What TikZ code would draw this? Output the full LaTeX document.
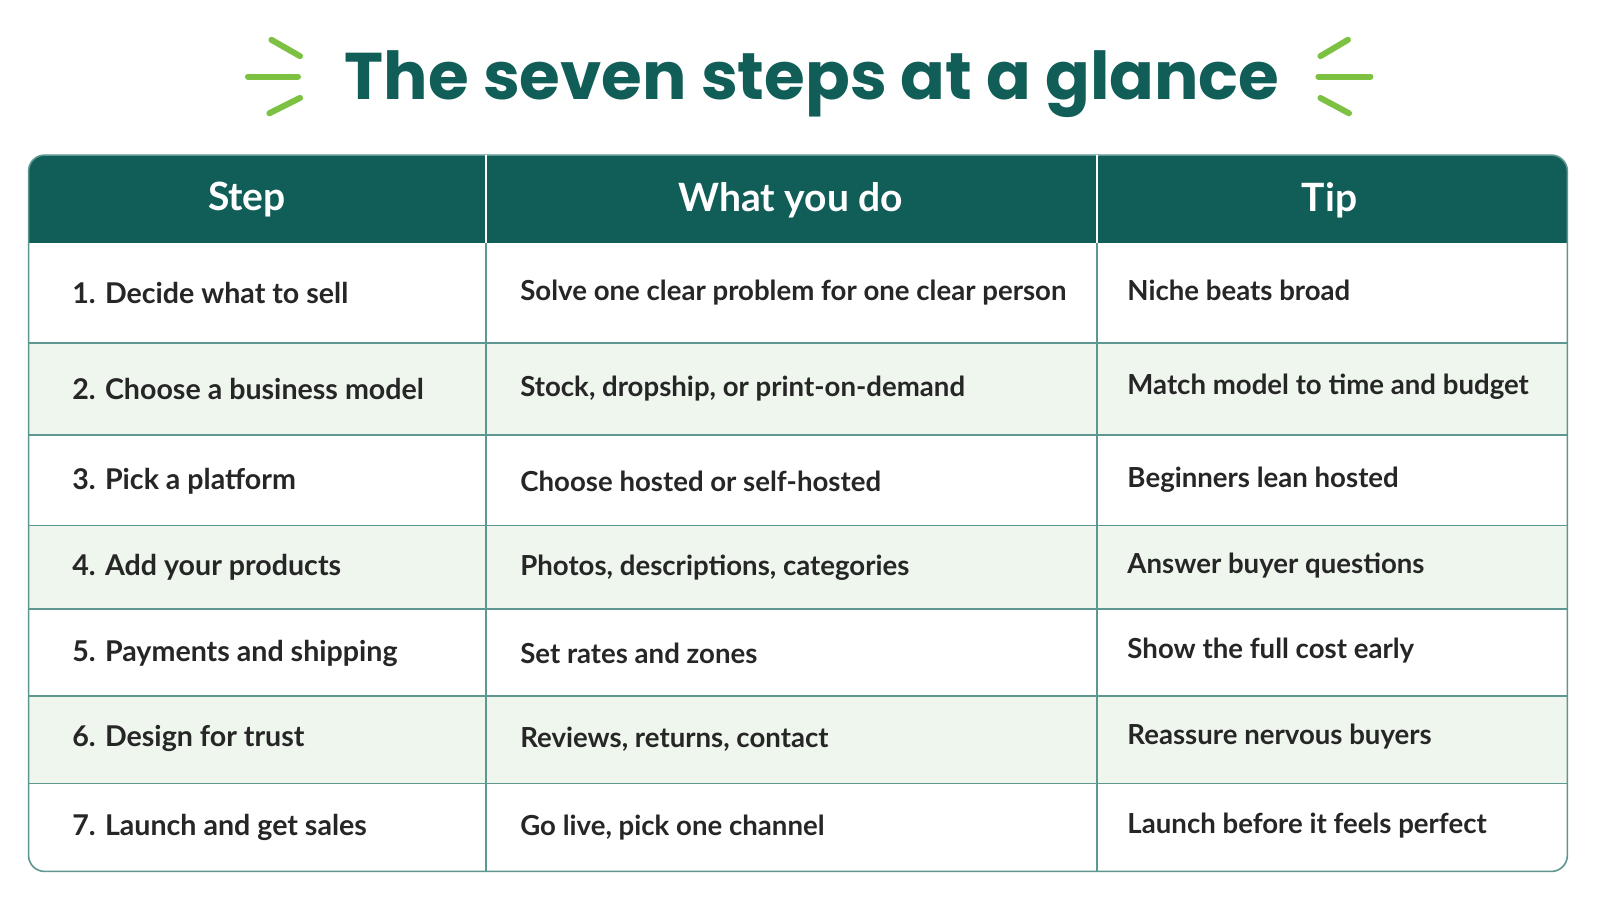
\documentclass[tikz,border=0pt]{standalone}
\usepackage{fontspec}
\setmainfont{Poppins}
\newfontfamily\bodyf{Lato}
\definecolor{myteal}{HTML}{115E58}
\definecolor{myacc}{HTML}{7DC142}
\definecolor{alt}{HTML}{EEF6EE}
\definecolor{grid}{HTML}{5E9690}
\definecolor{txt}{HTML}{262626}
\begin{document}
\begin{tikzpicture}[x=0.5102pt,y=-0.5102pt,
  accl/.style={myacc,line width=3pt,line cap=round},
  hd/.style={text=white,font=\bodyf\bfseries\fontsize{19.5}{22}\selectfont},
  cell/.style={anchor=west,text=txt,font=\bodyf\bfseries\fontsize{14.3}{16}\selectfont},
  cell2/.style={anchor=west,text=txt,font=\bodyf\bfseries\fontsize{13.8}{16}\selectfont}]
\fill[white] (0,0) rectangle (1568,882);
\node[text=myteal,font=\bfseries\fontsize{33}{40}\selectfont] (title) at (796,82) {The seven steps at a glance};
\draw[accl] (266,39) -- (294,55); \draw[accl] (243,75) -- (292,75); \draw[accl] (264,111) -- (294,96);
\draw[accl] (1321,39) -- (1294,55); \draw[accl] (1343,75) -- (1292,75); \draw[accl] (1322,111) -- (1294,96);
\begin{scope}
\clip[rounded corners=8pt] (28,152) rectangle (1536,854);
\fill[myteal] (28,152) rectangle (1536,238);
\foreach \a/\b in {336/426,515/597,682/768} \fill[alt] (28,\a) rectangle (1536,\b);
\end{scope}
\draw[grid,line width=0.8pt,rounded corners=8pt] (28,152) rectangle (1536,854);
\foreach \y in {336,426,515,597,682,768} \draw[grid,line width=0.8pt] (28,\y) -- (1536,\y);
\draw[white,line width=1pt] (476,152) -- (476,238); \draw[white,line width=1pt] (1075,152) -- (1075,238);
\draw[grid,line width=0.8pt] (476,238) -- (476,854); \draw[grid,line width=0.8pt] (1075,238) -- (1075,854);
\node[hd] (h1) at (242,196) {Step};
\node[hd] (h2) at (775,196) {What you do};
\node[hd] (h3) at (1303,196) {Tip};
\foreach \i/\y/\a/\b/\c in {
1/287/{1. Decide what to sell}/{Solve one clear problem for one clear person}/{Niche beats broad},
2/381/{2. Choose a business model}/{Stock, dropship, or print-on-demand}/{Match model to time and budget},
3/472/{3. Pick a platform}/{Choose hosted or self-hosted}/{Beginners lean hosted},
4/556/{4. Add your products}/{Photos, descriptions, categories}/{Answer buyer questions},
5/640/{5. Payments and shipping}/{Set rates and zones}/{Show the full cost early},
6/724/{6. Design for trust}/{Reviews, returns, contact}/{Reassure nervous buyers},
7/811/{7. Launch and get sales}/{Go live, pick one channel}/{Launch before it feels perfect}}{
\node[cell] (s\i) at (64,\y) {\a};
\node[cell2] (w\i) at (503,\y) {\b};
\node[cell2] (t\i) at (1098,\y-2) {\c};
}
\pgfresetboundingbox
\useasboundingbox (0,0) rectangle (1568,882);
\end{tikzpicture}
\end{document}
